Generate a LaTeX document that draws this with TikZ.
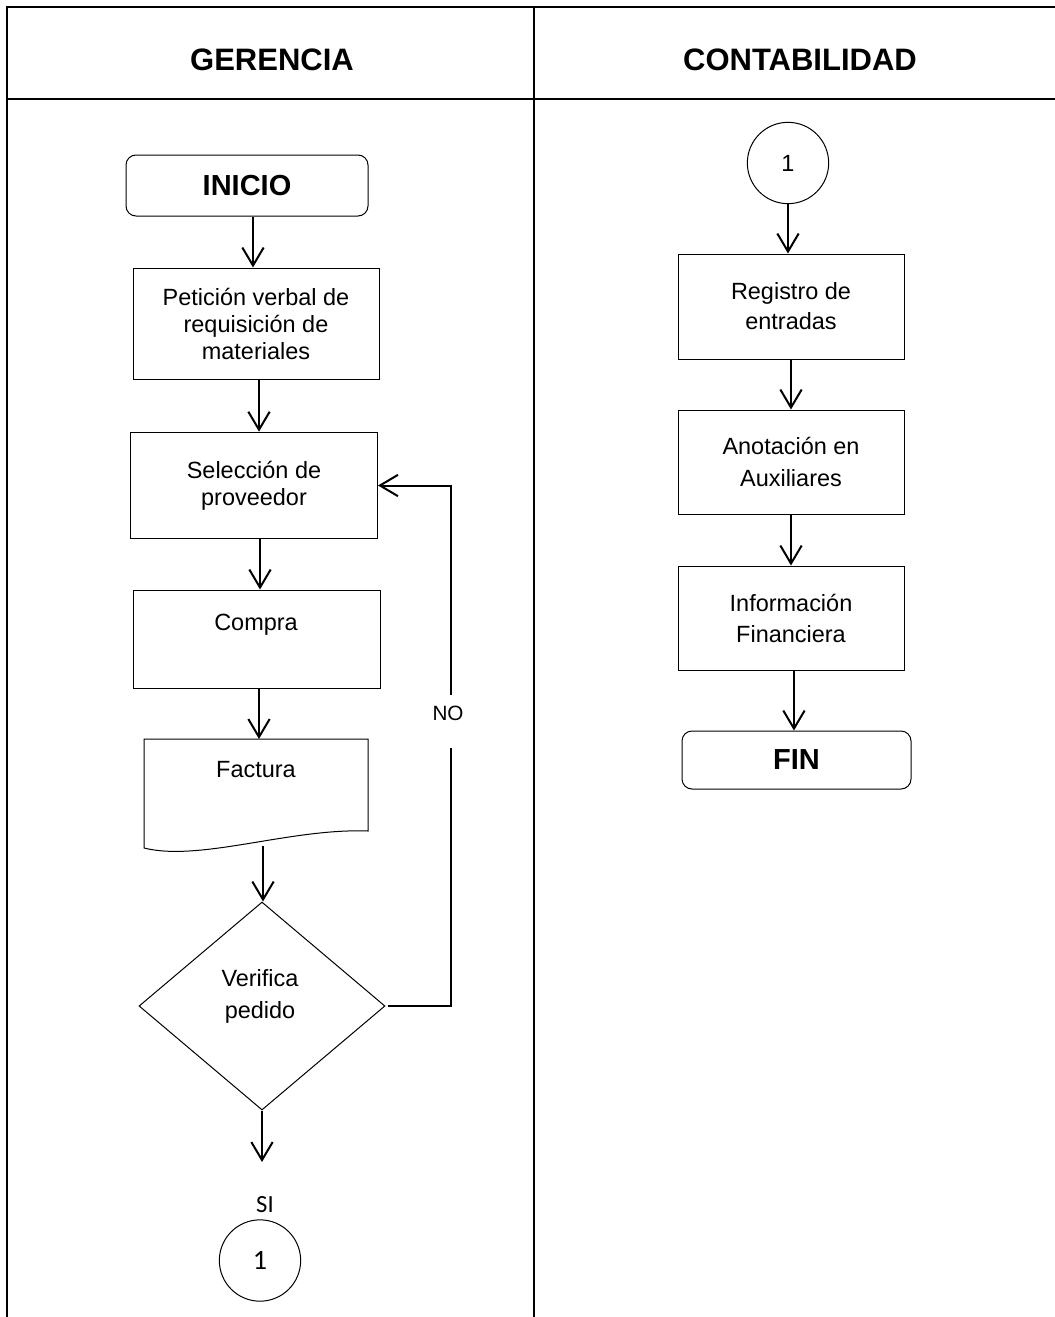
\documentclass[tikz,border=0pt]{standalone}
\usepackage{fontspec}
\setmainfont{Liberation Sans}
\newfontfamily\calibrifont{Carlito}
\usetikzlibrary{arrows.meta,shapes.geometric}

\tikzset{
  lane/.style={line width=1.5pt, line cap=rect},
  header/.style={font=\bfseries\fontsize{23.25}{28}\selectfont},
  stepbox/.style={draw, rectangle, line width=0.75pt, inner sep=0pt, align=center,
    font=\fontsize{17.6}{22.5}\selectfont},
  terminal/.style={draw, rectangle, rounded corners=7.5pt, line width=0.75pt, inner sep=0pt,
    font=\bfseries\fontsize{21.75}{26}\selectfont},
  connector/.style={draw, circle, line width=0.75pt, minimum size=61pt, inner sep=0pt},
  decision/.style={draw, diamond, line width=0.75pt, inner sep=0pt,
    minimum width=184.5pt, minimum height=156pt},
  plaintext/.style={inner sep=0pt, align=center, font=\fontsize{17.6}{22.5}\selectfont},
  flow/.style={line width=1.5pt, -{Straight Barb[length=13.5pt,width=16pt]}},
  loopline/.style={line width=1.5pt},
}

\begin{document}
\begin{tikzpicture}[x=0.75pt,y=-0.75pt]
\useasboundingbox (0,0) rectangle (1054,1317);

% swimlane table
\draw[lane] (7,1320) -- (7,7) -- (1060,7);
\draw[lane] (7,99) -- (1060,99);
\draw[lane] (534,7) -- (534,1320);
\node[header] (gerencia) at (272,60) {GERENCIA};
\node[header] (contabilidad) at (800,60) {CONTABILIDAD};

% ---- GERENCIA lane ----
\node[terminal, minimum width=181.5pt, minimum height=45.75pt] (inicio) at (247,185.5) {INICIO};
\node[stepbox, minimum width=184.5pt, minimum height=83.25pt,
      font=\fontsize{17.6}{20.25}\selectfont] (peticion) at (256,323.5)
      {Petición verbal de\\requisición de\\materiales};
\node[stepbox, minimum width=185.25pt, minimum height=80pt,
      font=\fontsize{17.6}{20.25}\selectfont] (seleccion) at (254,485.5)
      {Selección de\\proveedor};
\node[stepbox, minimum width=185.25pt, minimum height=73.5pt] (compra) at (256.5,639) {};
\node[plaintext] (compratxt) at (256,625) {Compra};

% document symbol for the invoice
\draw[line width=0.75pt] (144,739) -- (368,739) -- (368,831)
  .. controls (290,828) and (200,862) .. (144,848) -- cycle;
\node[plaintext] (facturatxt) at (256,770) {Factura};
\coordinate (facturatop) at (259,739);
\coordinate (facturabottom) at (263,846);

\node[decision] (verifica) at (262,1006) {};
\node[plaintext, font=\fontsize{17.6}{24}\selectfont] (verificatxt) at (260,996) {Verifica\\pedido};

% "NO" return branch
\node[plaintext, font=\fontsize{15.5}{18}\selectfont] (no) at (448,713.5) {NO};
\coordinate (noabove) at (451,695);
\coordinate (nobelow) at (451,748);

\coordinate (siarrow) at (264,1162);
\node[plaintext, font=\calibrifont\fontsize{18.5}{20}\selectfont] (si) at (265,1205) {SI};
\node[connector, font=\calibrifont\fontsize{21}{24}\selectfont] (conna) at (260,1260.5) {1};

\draw[flow] ([xshift=4.5pt]inicio.south) -- ([xshift=4.5pt]inicio.south |- peticion.north);
\draw[flow] ([xshift=2.25pt]peticion.south) -- ([xshift=2.25pt]peticion.south |- seleccion.north);
\draw[flow] ([xshift=4.5pt]seleccion.south) -- ([xshift=4.5pt]seleccion.south |- compra.north);
\draw[flow] (compra.south -| facturatop) -- (facturatop);
\draw[flow] (facturabottom) -- (facturabottom |- verifica.north);
\draw[flow] (verifica.south) -- (verifica.south |- siarrow);
\draw[loopline] ([xshift=1.5pt]verifica.east) -- (verifica.east -| nobelow) -- (nobelow);
\draw[flow] (noabove) |- (seleccion.east);

% ---- CONTABILIDAD lane ----
\node[connector, font=\fontsize{17.6}{20}\selectfont] (connb) at (788,163) {1};
\node[stepbox, minimum width=169.5pt, minimum height=78.75pt] (registro) at (791,306.5)
      {Registro de\\entradas};
\node[stepbox, minimum width=169.5pt, minimum height=78pt,
      font=\fontsize{17.6}{24.5}\selectfont] (anotacion) at (791,462)
      {Anotación en\\Auxiliares};
\node[stepbox, minimum width=169.5pt, minimum height=78pt,
      font=\fontsize{17.6}{23.25}\selectfont] (informacion) at (791,618)
      {Información\\Financiera};
\node[terminal, minimum width=171.75pt, minimum height=43.5pt] (fin) at (796.5,760) {FIN};

\draw[flow] (connb.south) -- (connb.south |- registro.north);
\draw[flow] (registro.south) -- (anotacion.north);
\draw[flow] (anotacion.south) -- (informacion.north);
\draw[flow] ([xshift=-1.9pt]informacion.south -| fin.north) -- ([xshift=-1.9pt]fin.north);
\end{tikzpicture}
\end{document}
